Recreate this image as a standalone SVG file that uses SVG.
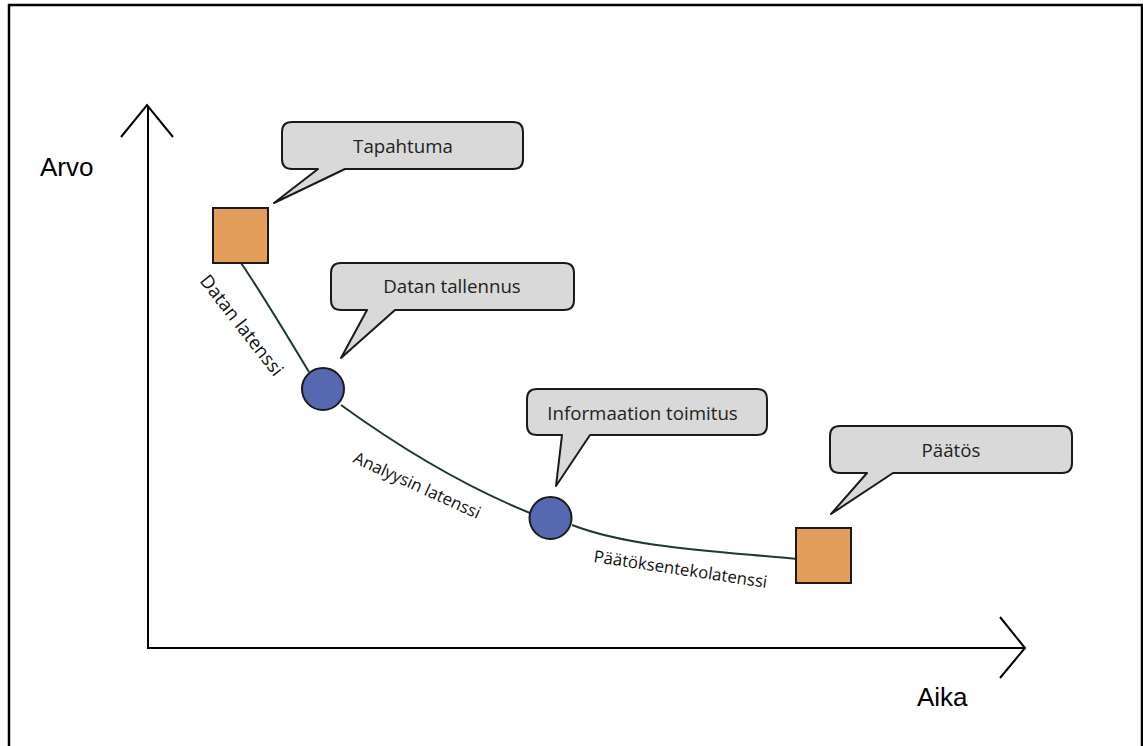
<svg xmlns="http://www.w3.org/2000/svg" width="1143" height="746" viewBox="0 0 1143 746">
  <style>
    .frame{fill:none;stroke:#000;stroke-width:2.5}
    .axis{fill:none;stroke:#000;stroke-width:2}
    .curve{fill:none;stroke:#1e3a2e;stroke-width:2}
    .callout{fill:#d9d9d9;stroke:#1a1a1a;stroke-width:2;stroke-linejoin:round}
    .sq{fill:#e39e5b;stroke:#1a1a1a;stroke-width:2}
    .dot{fill:#5668b0;stroke:#1a1a1a;stroke-width:2}
    .ctext{font-family:"Open Sans","Noto Sans",sans-serif;font-size:18.7px;fill:#222;text-anchor:middle}
    .lbl{font-family:"Open Sans","Noto Sans",sans-serif;font-size:16.8px;fill:#111}
    .ax{font-family:"Liberation Sans",Arial,sans-serif;font-size:26px;fill:#000}
  </style>
  <rect class="frame" x="9" y="5" width="1133" height="780"/>
  <g id="axes">
    <line class="axis" x1="148" y1="106" x2="148" y2="648"/>
    <polyline class="axis" points="121,137 147,105 173,137"/>
    <line class="axis" x1="147" y1="648" x2="1024" y2="648"/>
    <polyline class="axis" points="1000,617 1025,648 1000,678"/>
    <text class="ax" x="40" y="176">Arvo</text>
    <text class="ax" x="917" y="706">Aika</text>
  </g>
  <g id="connectors">
    <path class="curve" d="M241,263 Q259,289 309,372"/>
    <path class="curve" d="M341,405 Q439,476 530,513"/>
    <path class="curve" d="M572,525 C632,548 716,551 797,559"/>
    <text class="lbl" style="font-size:18.5px" transform="translate(199,281) rotate(52)">Datan latenssi</text>
    <text class="lbl" transform="translate(352,462) rotate(24.5)">Analyysin latenssi</text>
    <text class="lbl" transform="translate(593,562) rotate(8.5)">Päätöksentekolatenssi</text>
  </g>
  <g id="tapahtuma">
    <rect class="sq" x="213" y="208" width="55" height="55"/>
    <path class="callout" d="M292,122 H513 Q523,122 523,132 V159 Q523,169 513,169 H345 L274,203 L318,169 H292 Q282,169 282,159 V132 Q282,122 292,122 Z"/>
    <text class="ctext" x="403" y="153">Tapahtuma</text>
  </g>
  <g id="datan-tallennus">
    <circle class="dot" cx="323" cy="389" r="21"/>
    <path class="callout" d="M341,263 H564 Q574,263 574,273 V300 Q574,310 564,310 H395 L341,358 L367,310 H341 Q331,310 331,300 V273 Q331,263 341,263 Z"/>
    <text class="ctext" x="452" y="293">Datan tallennus</text>
  </g>
  <g id="informaation-toimitus">
    <circle class="dot" cx="550.5" cy="518" r="21"/>
    <path class="callout" d="M537,389 H757 Q767,389 767,399 V425 Q767,435 757,435 H590 L556,486 L562,435 H537 Q527,435 527,425 V399 Q527,389 537,389 Z"/>
    <text class="ctext" x="642.5" y="420">Informaation toimitus</text>
  </g>
  <g id="paatos">
    <rect class="sq" x="796" y="528" width="55" height="55"/>
    <path class="callout" d="M840,426 H1062 Q1072,426 1072,436 V463 Q1072,473 1062,473 H893 L831,514 L867,473 H840 Q830,473 830,463 V436 Q830,426 840,426 Z"/>
    <text class="ctext" x="951" y="457">Päätös</text>
  </g>
</svg>
